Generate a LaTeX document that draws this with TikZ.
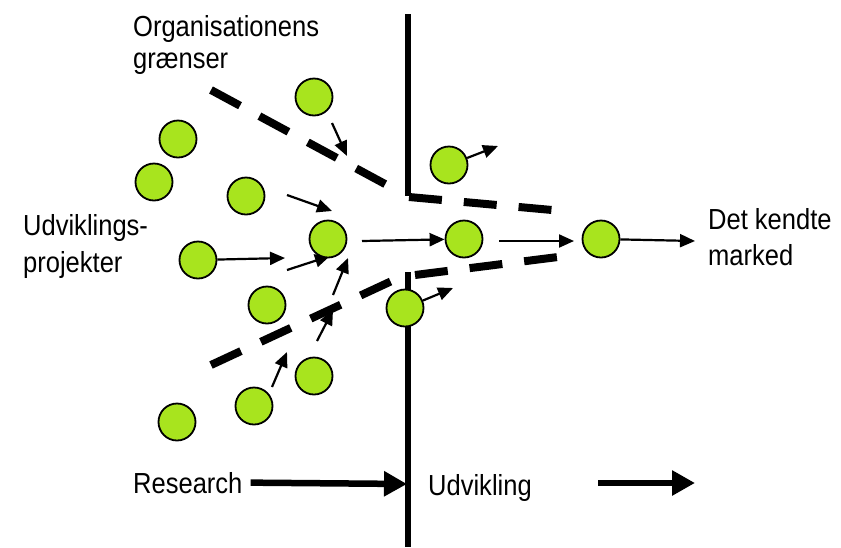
\documentclass[tikz,border=0pt]{standalone}
\usepackage{fontspec}
\setmainfont{Liberation Sans}[FakeStretch=0.88]
\usetikzlibrary{arrows.meta}
\definecolor{limegreen}{RGB}{168,228,30}

\begin{document}
\begin{tikzpicture}[x=1pt, y=-1pt,
    dot node/.style={circle, draw, line width=1.8pt, fill=limegreen, minimum size=37pt, inner sep=0pt},
    text node/.style={anchor=base west, align=left, inner sep=0pt},
    flow/.style={line width=2.2pt, -{Triangle[length=15pt,width=13pt]}},
    big flow/.style={line width=6.5pt, -{Triangle[length=23pt,width=24pt]}},
    border/.style={line width=8pt, dash pattern=on 33pt off 22pt},
    wall/.style={line width=5.5pt}]
  \useasboundingbox (0,0) rectangle (841,547);

  % the wall between research and development
  \coordinate (top) at (408,14);
  \coordinate (ucorner) at (408,196);
  \coordinate (lcorner) at (408,272);
  \coordinate (bottom) at (408,547);
  \draw[wall] (top) -- (ucorner);
  \draw[wall] (lcorner) -- (bottom);

  % organisational borders
  \draw[border] (211,90) -- (398,191);
  \draw[border] (409,197) -- (552,210);
  \draw[border] (211,365) -- (396,279);
  \draw[border] (415,275) -- (558,257);

  % labels (base = last line)
  \node[text node, font=\fontsize{29}{32}\selectfont] (org) at (133,68) {Organisationens\\grænser};
  \node[text node, font=\fontsize{29}{37}\selectfont] (proj) at (23,272) {Udviklings-\\projekter};
  \node[text node, font=\fontsize{29}{36}\selectfont] (market) at (708,265) {Det kendte\\marked};
  \node[text node, font=\fontsize{29}{34}\selectfont] (research) at (133,493) {Research};
  \node[text node, font=\fontsize{29}{34}\selectfont] (dev) at (428,495) {Udvikling};

  % arrow ends
  \coordinate (a1) at (332,123); \coordinate (b1) at (347,156);
  \coordinate (a2) at (287,195); \coordinate (b2) at (332,211);
  \coordinate (b6) at (285,258);
  \coordinate (a4) at (287,270); \coordinate (b4) at (330,256);
  \coordinate (a5) at (333,295); \coordinate (b5) at (348,258);
  \coordinate (a7) at (317,341); \coordinate (b7) at (333,310);
  \coordinate (a8) at (272,387); \coordinate (b8) at (287,352);
  \coordinate (a9) at (362,241);
  \coordinate (a10) at (499,241); \coordinate (b10) at (574,241);
  \coordinate (b14) at (695,241);
  \coordinate (b12) at (498,146);
  \coordinate (b11) at (453,288);
  \coordinate (r2) at (407,484);
  \coordinate (u1) at (598,483); \coordinate (u2) at (695,483);

  \draw[flow] (a1) -- (b1);
  \draw[flow] (a2) -- (b2);
  \draw[flow] (a4) -- (b4);
  \draw[flow] (a5) -- (b5);
  \draw[flow] (a7) -- (b7);
  \draw[flow] (a8) -- (b8);
  \draw[flow] (a10) -- (b10);

  % projects
  \node[dot node] (1) at (314,97) {};
  \node[dot node] (2) at (178,139) {};
  \node[dot node] (3) at (154,182) {};
  \node[dot node] (4) at (246,196) {};
  \node[dot node] (5) at (328,239) {};
  \node[dot node] (6) at (198,260) {};
  \node[dot node] (7) at (267,305) {};
  \node[dot node] (8) at (314,376) {};
  \node[dot node] (9) at (254,406) {};
  \node[dot node] (10) at (177,422) {};
  \node[dot node] (11) at (405,308) {};
  \node[dot node] (12) at (449,165) {};
  \node[dot node] (13) at (464,239) {};
  \node[dot node] (14) at (601,239) {};

  \draw[flow] (6) -- (b6);
  \draw[flow] (a9) -- (13);
  \draw[flow] (14) -- (b14);
  \draw[flow] (12) -- (b12);
  \draw[flow] (11) -- (b11);

  \draw[big flow] ([xshift=8pt]research.east) -- (r2);
  \draw[big flow] (u1) -- (u2);
\end{tikzpicture}
\end{document}
